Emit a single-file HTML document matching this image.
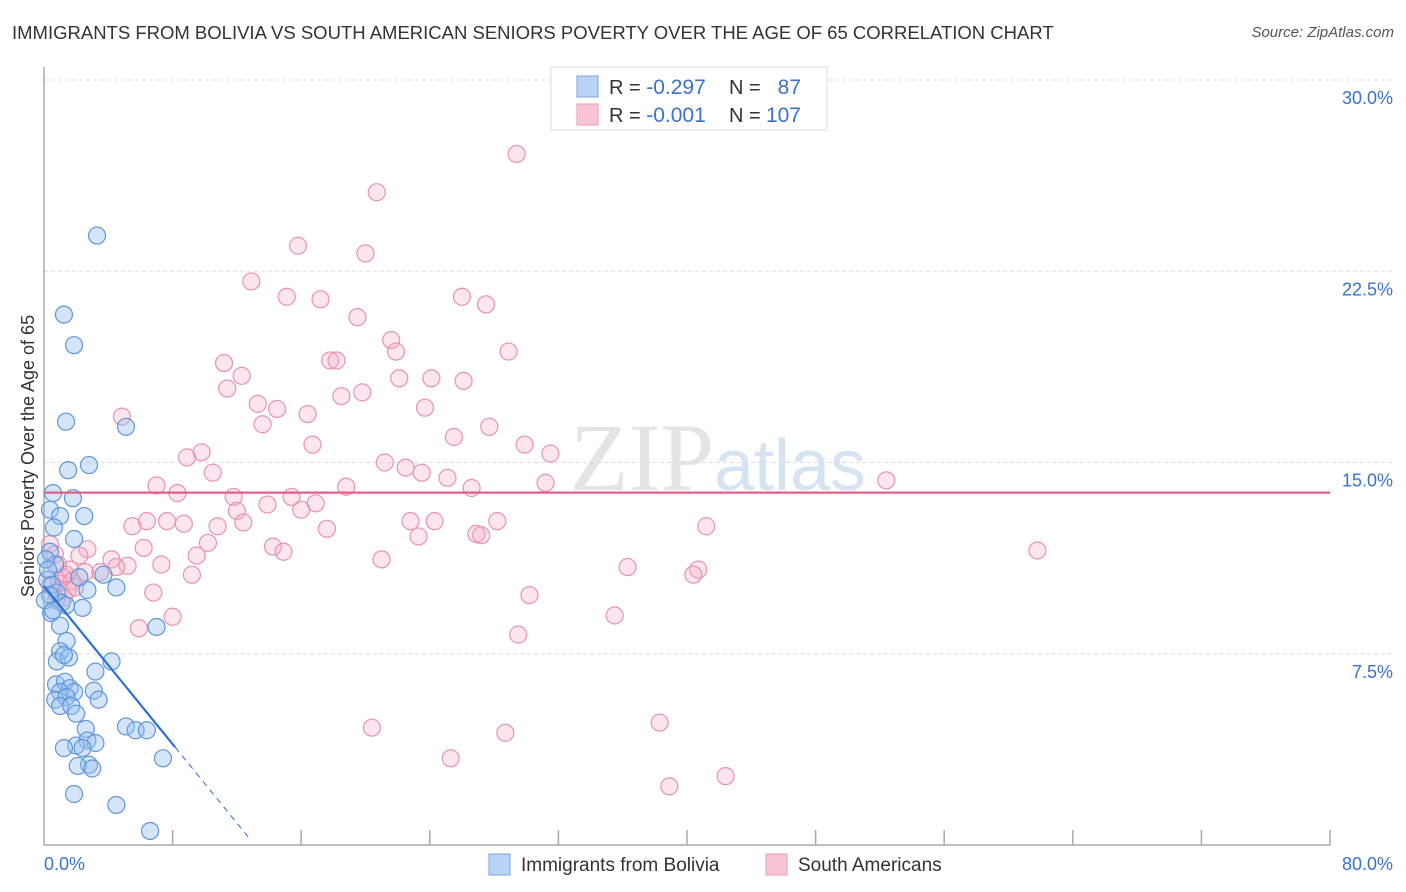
<!DOCTYPE html>
<html><head><meta charset="utf-8">
<style>
body{margin:0;background:#fff;font-family:"Liberation Sans",sans-serif;}
#wrap{position:relative;width:1406px;height:892px;overflow:hidden;}
.title{position:absolute;left:12px;top:22px;font-size:18.5px;color:#333;white-space:nowrap;}
.source{position:absolute;right:12px;top:24px;font-size:15px;color:#555;font-style:italic;}
</style></head>
<body>
<div id="wrap">
<div class="title">IMMIGRANTS FROM BOLIVIA VS SOUTH AMERICAN SENIORS POVERTY OVER THE AGE OF 65 CORRELATION CHART</div>
<div class="source">Source: ZipAtlas.com</div>
<svg id="svg" width="1406" height="892" style="position:absolute;left:0;top:0"></svg>
</div>
<script>
const yTicks=[7.5,15,22.5,30];
const yTickLabels=["7.5%","15.0%","22.5%","30.0%"];
const xTickCount=10;
const blueX=[3.3,1.24,1.87,1.37,5.1,1.5,2.8,0.56,1.8,2.5,0.37,1.0,0.62,1.87,0.37,0.7,0.2,0.5,0.8,3.7,2.7,4.5,2.2,1.1,1.37,2.4,0.44,1.0,1.4,7.0,4.2,1.0,0.8,1.55,1.24,3.2,0.75,1.3,1.6,1.0,1.87,3.1,0.7,1.4,3.4,1.0,1.7,2.0,2.6,5.1,5.7,6.4,2.7,3.2,2.0,2.4,1.24,7.4,2.8,2.1,3.0,1.87,4.5,6.6,0.12,0.25,0.37,0.06,0.56];
const blueY=[23.9,20.8,19.6,16.6,16.4,14.7,14.9,13.8,13.6,12.9,13.15,12.9,12.45,12.0,11.5,11.0,10.4,10.2,9.9,10.6,10.0,10.1,10.5,9.5,9.4,9.3,9.1,8.6,8.0,8.55,7.2,7.6,7.2,7.35,7.45,6.8,6.3,6.4,6.15,6.0,6.0,6.05,5.7,5.8,5.7,5.45,5.45,5.15,4.55,4.65,4.5,4.5,4.1,4.0,3.9,3.8,3.8,3.4,3.15,3.1,3.0,2.0,1.57,0.55,11.2,10.8,9.8,9.6,9.2];
const pinkX=[29.4,20.7,15.8,20.0,12.9,26.0,15.1,17.2,27.5,19.5,21.6,21.9,28.9,11.2,17.8,18.2,12.3,22.1,24.1,26.1,11.4,19.8,18.5,13.3,14.5,23.7,16.4,4.85,13.6,27.7,25.5,16.7,29.9,9.8,8.9,31.5,21.2,22.5,23.5,10.5,25.1,52.4,7.0,18.8,31.2,26.6,8.3,11.8,15.4,16.9,13.9,16.0,12.0,12.4,6.4,7.65,8.7,22.8,24.3,28.2,5.5,10.8,17.6,41.2,26.9,27.2,23.3,10.2,14.25,14.9,6.2,61.8,2.7,9.5,21.0,4.2,2.2,5.2,7.3,4.5,36.3,40.7,40.4,9.2,1.6,3.5,1.2,2.55,0.93,30.2,6.8,0.37,35.5,8.0,5.9,29.5,38.3,20.4,28.7,25.3,42.4,38.9,0.37,0.68,0.87,1.37,1.74,1.49,1.24,1.93,0.75];
const pinkY=[27.1,25.6,23.5,23.2,22.1,21.5,21.5,21.4,21.2,20.7,19.8,19.35,19.35,18.9,19.0,19.0,18.4,18.3,18.3,18.2,17.9,17.75,17.6,17.3,17.1,17.15,16.9,16.8,16.5,16.4,16.0,15.7,15.7,15.4,15.2,15.35,15.0,14.8,14.6,14.6,14.4,14.3,14.1,14.05,14.2,14.0,13.8,13.65,13.65,13.4,13.35,13.15,13.1,12.65,12.7,12.7,12.6,12.7,12.7,12.7,12.5,12.5,12.4,12.5,12.2,12.15,12.1,11.85,11.7,11.5,11.65,11.55,11.6,11.35,11.2,11.2,11.35,10.95,11.0,10.9,10.9,10.8,10.6,10.6,10.8,10.7,10.5,10.7,10.25,9.8,9.9,10.2,9.0,8.95,8.5,8.25,4.8,4.6,4.4,3.4,2.7,2.3,11.8,11.4,11.0,10.6,10.35,10.0,9.7,10.1,9.6];
const blueTrend=[10.15,-0.774];   // intercept, slope (y% per x%)
const pinkTrend=[13.82,0];

const NS="http://www.w3.org/2000/svg";
const svg=document.getElementById('svg');
const X0=44,X1=1330,Y0=845,Y30=80;
const sx=v=>X0+v*(X1-X0)/80;
const sy=v=>Y0-v*(Y0-Y30)/30;
function el(tag,attrs,parent){const e=document.createElementNS(NS,tag);for(const k in attrs)e.setAttribute(k,attrs[k]);(parent||svg).appendChild(e);return e;}

// watermark
let wm=el('text',{x:718,y:490,'font-size':96,'text-anchor':'middle','font-family':'Liberation Serif,serif',fill:'#e4e4e4'});


wm.innerHTML='ZIP<tspan font-family="Liberation Sans,sans-serif" font-size="72" fill="#d6e3f3">atlas</tspan>';

// gridlines & y labels
yTicks.forEach((t,i)=>{
  const g=el('line',{x1:X0,x2:1393,y1:sy(t),y2:sy(t),stroke:'#ddd','stroke-dasharray':'4,3'});
  
  
  const l=el('text',{x:1393,y:sy(t)+24,'text-anchor':'end','font-size':18,fill:'#3a72cc'});
  
  
  l.textContent=yTickLabels[i];
});
// axes
let ax=el('line',{x1:X0,x2:X0,y1:67,y2:Y0,stroke:'#aaa','stroke-width':1.5});


let bx=el('line',{x1:X0,x2:X1,y1:Y0,y2:Y0,stroke:'#aaa','stroke-width':1.5});


for(let i=1;i<=xTickCount;i++){
  const xv=sx(i*80/xTickCount);
  const t=el('line',{x1:xv,x2:xv,y1:Y0-15,y2:Y0,stroke:'#aaa','stroke-width':1.5});
  
  
}
let xl=el('text',{x:44,y:870,'font-size':18,fill:'#3a72cc'});xl.textContent='0.0%';


let xr=el('text',{x:1393,y:870,'font-size':18,fill:'#3a72cc','text-anchor':'end'});xr.textContent='80.0%';


let yt=el('text',{x:0,y:0,'font-size':18,fill:'#333','text-anchor':'middle',transform:'translate(34,456) rotate(-90)'});
yt.textContent='Seniors Poverty Over the Age of 65';



// points
function drawPts(xs,ys,fill,stroke,name){
  xs.forEach((v,i)=>{
    const c=el('circle',{cx:sx(v),cy:sy(ys[i]),r:8.5,fill:fill,stroke:stroke,'stroke-width':1.2});
    
    
  });
}
drawPts(pinkX,pinkY,'rgba(244,168,195,0.3)','#e892b2','point-south-american');
drawPts(blueX,blueY,'rgba(150,190,240,0.4)','#5f96dc','point-bolivia');

// trend lines
const bEnd=8.15, bDash=12.7;
let tb=el('line',{x1:sx(0),y1:sy(blueTrend[0]),x2:sx(bEnd),y2:sy(blueTrend[0]+blueTrend[1]*bEnd),stroke:'#2a6fd6','stroke-width':2.2});


let tbd=el('line',{x1:sx(bEnd),y1:sy(blueTrend[0]+blueTrend[1]*bEnd),x2:sx(bDash),y2:sy(blueTrend[0]+blueTrend[1]*bDash),stroke:'#2a6fd6','stroke-width':1,'stroke-dasharray':'6,5'});


let tp=el('line',{x1:sx(0),y1:sy(pinkTrend[0]),x2:sx(80),y2:sy(pinkTrend[0]+pinkTrend[1]*80),stroke:'#e0608a','stroke-width':2.2});



// top legend
let lg=el('rect',{x:551,y:67,width:276,height:63,fill:'#fff',stroke:'#ddd'});


function legRow(y,fill,stroke,r,n,name){
  const s=el('rect',{x:577,y:y-16,width:21,height:21,fill:fill,stroke:stroke});
  
  
  const t=el('text',{x:609,y:y+2,'font-size':20,fill:'#333'});
  
  
  t.innerHTML='R = <tspan fill="#3a72cc" font-size="21">'+r+'</tspan><tspan x="729">N = </tspan><tspan fill="#3a72cc" font-size="21" x="801" text-anchor="end">'+n+'</tspan>';
}
legRow(92,'#b8d3f5','#7aa6e0','-0.297','87','legend-bolivia');
legRow(120,'#f9c5d5','#ea9ab6','-0.001','107','legend-south-american');

// bottom legend
function botLeg(x,fill,stroke,label,name){
  const s=el('rect',{x:x,y:854,width:21,height:21,fill:fill,stroke:stroke});
  
  
  const t=el('text',{x:x+32,y:871,'font-size':19,fill:'#333'});
  
  
  t.textContent=label;
}
botLeg(489,'#b8d3f5','#7aa6e0','Immigrants from Bolivia','bottom-legend-bolivia');
botLeg(766,'#f9c5d5','#ea9ab6','South Americans','bottom-legend-south-american');
</script>
</body></html>
